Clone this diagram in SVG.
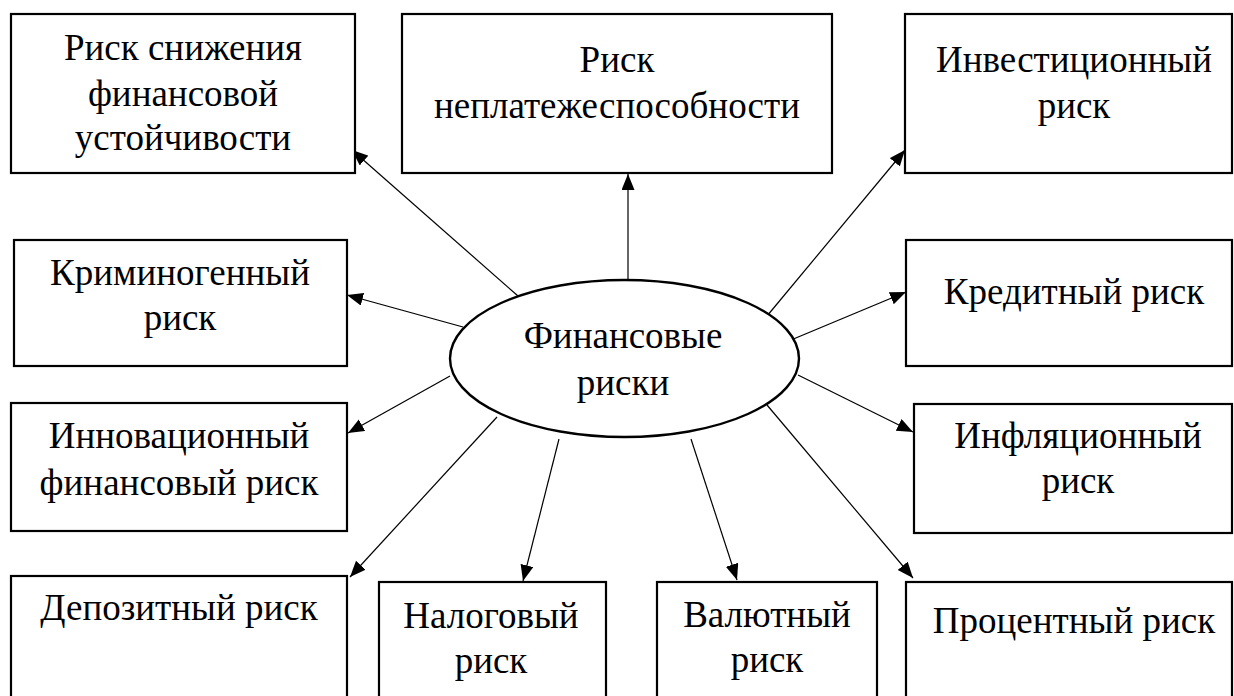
<svg xmlns="http://www.w3.org/2000/svg" width="1234" height="696" viewBox="0 0 1234 696">
<defs>
<style>
.box{fill:#fff;stroke:#000;stroke-width:2.2}
.ell{fill:#fff;stroke:#000;stroke-width:2.4}
.t{font-family:"Liberation Serif","Times New Roman","DejaVu Serif",serif;font-size:37px;fill:#000;text-anchor:middle}
.c{stroke:#000;stroke-width:1.2;fill:none;marker-end:url(#ah)}
</style>
<marker id="ah" markerUnits="userSpaceOnUse" markerWidth="18" markerHeight="14" refX="16" refY="6.5" orient="auto">
<path d="M0,0 L16,6.5 L0,13 z" fill="#000"/>
</marker>
</defs>
<rect width="1234" height="696" fill="#fff"/>
<g id="connectors">
<line class="c" x1="518" y1="296" x2="352" y2="150"/>
<line class="c" x1="628" y1="280" x2="628" y2="174"/>
<line class="c" x1="767" y1="316" x2="905" y2="150"/>
<line class="c" x1="791" y1="340" x2="906" y2="292"/>
<line class="c" x1="798" y1="375" x2="913" y2="432"/>
<line class="c" x1="767" y1="405" x2="913" y2="578"/>
<line class="c" x1="691" y1="439" x2="737" y2="580"/>
<line class="c" x1="559" y1="439" x2="523" y2="581"/>
<line class="c" x1="497" y1="417" x2="350" y2="577"/>
<line class="c" x1="450" y1="376" x2="348" y2="433"/>
<line class="c" x1="463" y1="327" x2="347" y2="295"/>
</g>
<g id="center">
<ellipse class="ell" cx="624.5" cy="358.5" rx="174.5" ry="78.5"/>
<text class="t" x="623" y="348">Финансовые</text>
<text class="t" x="623" y="395">риски</text>
</g>
<g id="n1">
<rect class="box" x="11" y="14" width="344" height="159"/>
<text class="t" x="183" y="60">Риск снижения</text>
<text class="t" x="183" y="106">финансовой</text>
<text class="t" x="183" y="150">устойчивости</text>
</g>
<g id="n2">
<rect class="box" x="402" y="14" width="430" height="159"/>
<text class="t" x="617" y="72">Риск</text>
<text class="t" x="617" y="118">неплатежеспособности</text>
</g>
<g id="n3">
<rect class="box" x="905" y="14" width="327" height="159"/>
<text class="t" x="1074" y="72">Инвестиционный</text>
<text class="t" x="1074" y="118">риск</text>
</g>
<g id="n4">
<rect class="box" x="14" y="240" width="333" height="126"/>
<text class="t" x="180" y="285">Криминогенный</text>
<text class="t" x="180" y="330">риск</text>
</g>
<g id="n5">
<rect class="box" x="906" y="240" width="326" height="126"/>
<text class="t" x="1074" y="304">Кредитный риск</text>
</g>
<g id="n6">
<rect class="box" x="11" y="403" width="336" height="128"/>
<text class="t" x="179" y="448">Инновационный</text>
<text class="t" x="179" y="495">финансовый риск</text>
</g>
<g id="n7">
<rect class="box" x="914" y="404" width="318" height="129"/>
<text class="t" x="1078" y="448">Инфляционный</text>
<text class="t" x="1078" y="493">риск</text>
</g>
<g id="n8">
<rect class="box" x="11" y="576" width="336" height="130"/>
<text class="t" x="179" y="620">Депозитный риск</text>
</g>
<g id="n9">
<rect class="box" x="379" y="582" width="227" height="124"/>
<text class="t" x="491" y="628">Налоговый</text>
<text class="t" x="491" y="673">риск</text>
</g>
<g id="n10">
<rect class="box" x="657" y="582" width="220" height="124"/>
<text class="t" x="767" y="627">Валютный</text>
<text class="t" x="767" y="672">риск</text>
</g>
<g id="n11">
<rect class="box" x="906" y="582" width="326" height="124"/>
<text class="t" x="1074" y="633">Процентный риск</text>
</g>
</svg>
